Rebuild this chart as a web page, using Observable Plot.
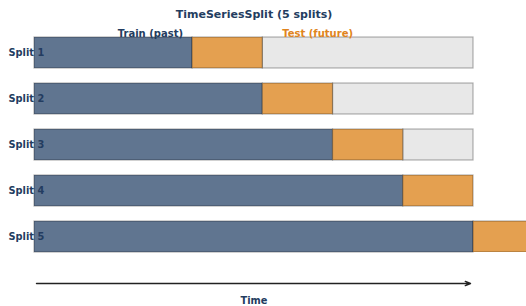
<!DOCTYPE html>
<html>
<head>
<meta charset="utf-8">
<script src="https://cdn.jsdelivr.net/npm/d3@7"></script>
<script src="https://cdn.jsdelivr.net/npm/@observablehq/plot@0.6"></script>
<style>
  html, body { margin: 0; padding: 0; background: white; overflow: hidden; }
  #chart { width: 526px; height: 306px; }
</style>
</head>
<body>
<div id="chart"></div>
<script>
const splits = ["Split 1", "Split 2", "Split 3", "Split 4", "Split 5"];
const trainEnd = [36, 52, 68, 84, 100];
const testEnd = [52, 68, 84, 100, 116];
const seriesEnd = 100;
const titleText = "TimeSeriesSplit (5 splits)";
const legendLabels = ["Train (past)", "Test (future)"];
const legendPos = [26.4, 64.5];
const axisLabel = "Time";

const trainColor = "#607590";
const testColor = "#e4a050";
const restColor = "#e8e8e8";
const navy = "#233c60";
const orange = "#e08420";

const rows = splits.map((s, i) => ({split: s, train: trainEnd[i], test: testEnd[i]}));
const rest = rows.filter(d => d.test < seriesEnd);
const font = "DejaVu Sans, sans-serif";

const chart = Plot.plot({
  width: 526,
  height: 306,
  marginLeft: 34,
  marginRight: 0,
  marginTop: 36,
  marginBottom: 54,
  style: {fontFamily: font, background: "white"},
  x: {domain: [0, 112.07], axis: null},
  y: {domain: splits, axis: null, paddingInner: 0.33, paddingOuter: 0},
  marks: [
    Plot.barX(rest, {y: "split", x1: "test", x2: () => seriesEnd, fill: restColor, stroke: "#000", strokeOpacity: 0.3, strokeWidth: 1.2}),
    Plot.barX(rows, {y: "split", x1: () => 0, x2: "train", fill: trainColor, stroke: "#000", strokeOpacity: 0.3, strokeWidth: 1.2}),
    Plot.barX(rows, {y: "split", x1: "train", x2: "test", fill: testColor, stroke: "#000", strokeOpacity: 0.3, strokeWidth: 1.2, clip: true}),
    Plot.text(rows, {y: "split", x: () => 0, text: "split", textAnchor: "start", dx: -26, fill: navy, fontWeight: "bold", fontSize: 9.8}),
    Plot.text([titleText], {x: () => seriesEnd / 2, y: () => splits[0], text: d => d, dy: -39, fill: navy, fontWeight: "bold", fontSize: 11}),
    Plot.text(legendLabels, {x: (d, i) => legendPos[i], y: () => splits[0], text: d => d, dy: -19, fill: (d, i) => i === 0 ? navy : orange, fontWeight: "bold", fontSize: 10}),
    Plot.arrow([0], {x1: () => 0, x2: () => seriesEnd, y1: () => splits[4], y2: () => splits[4], dy: 46.5, insetStart: 2, insetEnd: 3, stroke: "#222", strokeWidth: 1.4, headLength: 6, headAngle: 45}),
    Plot.text([axisLabel], {x: () => seriesEnd / 2, y: () => splits[4], text: d => d, dy: 63.5, fill: navy, fontWeight: "bold", fontSize: 9.8})
  ]
});
chart.style.fontFamily = font;
document.getElementById("chart").appendChild(chart);
</script>
</body>
</html>
